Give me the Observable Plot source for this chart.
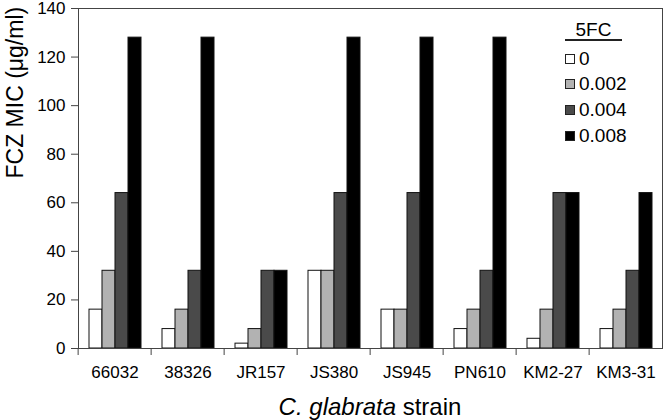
<!DOCTYPE html>
<html>
<head>
<meta charset="utf-8">
<script src="https://cdn.jsdelivr.net/npm/d3@7"></script>
<script src="https://cdn.jsdelivr.net/npm/@observablehq/plot@0.6"></script>
<style>
  body { margin: 0; background: #fff; font-family: "Liberation Sans", Arial, sans-serif; }
  #wrap { position: relative; width: 666px; }
  #chart svg { overflow: visible; }
  #xtitle { width: 590px; padding-left: 75px; text-align: center; font-size: 24px; height: 32px; line-height: 32px; padding-top: 3px; color: #000; }
  #legend-title { position: absolute; left: 565px; top: 21px; width: 57px; height: 18px; line-height: 18px; font-size: 19px; text-align: center; border-bottom: 2px solid #222; }
  #legend-items { position: absolute; left: 565px; top: 46px; }
  .row { display: flex; align-items: center; height: 25.6px; font-size: 19px; }
  .sw { width: 10px; height: 10px; box-sizing: border-box; border: 1px solid #222; margin-right: 4px; }
</style>
</head>
<body>
<div id="wrap">
  <div id="chart"></div>
  <div id="legend-title">5FC</div>
  <div id="legend-items"></div>
  <div id="xtitle"><i>C. glabrata</i> strain</div>
</div>
<script>
const strains = ["66032", "38326", "JR157", "JS380", "JS945", "PN610", "KM2-27", "KM3-31"];
const concentrations = ["0", "0.002", "0.004", "0.008"];
const mic_0 = [16, 8, 2, 32, 16, 8, 4, 8];
const mic_0002 = [32, 16, 8, 32, 16, 16, 16, 16];
const mic_0004 = [64, 32, 32, 64, 64, 32, 64, 32];
const mic_0008 = [128, 128, 32, 128, 128, 128, 64, 64];
const yTicks = [0, 20, 40, 60, 80, 100, 120, 140];
const colors = ["#ffffff", "#b2b2b2", "#4a4a4a", "#000000"];
const yTitle = "FCZ MIC (μg/ml)";
const legendTitle = "5FC";

const series = [mic_0, mic_0002, mic_0004, mic_0008];
const data = strains.flatMap((s, i) => concentrations.map((c, j) => ({strain: s, conc: c, mic: series[j][i]})));

const width = 666, height = 388, mL = 75, mR = 1, mT = 8, mB = 40;
const step = (width - mL - mR) / strains.length;

const chart = Plot.plot({
  width, height,
  marginLeft: mL, marginRight: mR, marginTop: mT, marginBottom: mB,
  style: {fontFamily: "Liberation Sans, Arial, sans-serif", fontSize: "17px", color: "#000", background: "white", overflow: "visible"},
  fx: {domain: strains, padding: 0, label: null},
  x: {domain: concentrations, paddingInner: 0, paddingOuter: 0.78, axis: null},
  y: {domain: [0, 140]},
  color: {domain: concentrations, range: colors},
  marks: [
    Plot.barY(data, {fx: "strain", x: "conc", y: "mic", fill: "conc", stroke: "#111", strokeWidth: 1}),
    Plot.frame({facet: "super", stroke: "#444"}),
    Plot.axisY({ticks: yTicks, tickSize: 7, tickPadding: 6, label: null, fontSize: 17, stroke: "#444"}),
    Plot.axisFx({anchor: "bottom", tickSize: 0, tickPadding: 17, label: null, fontSize: 17}),
    Plot.axisFx({anchor: "bottom", tickSize: 7, tickFormat: () => "", label: null, dx: -step / 2, stroke: "#444"}),
    Plot.text([yTitle], {facet: "super", text: d => d, frameAnchor: "left", rotate: -90, dx: -63, fontSize: 23})
  ]
});
document.getElementById("chart").appendChild(chart);

const li = document.getElementById("legend-items");
concentrations.forEach((c, i) => {
  const row = document.createElement("div");
  row.className = "row";
  const sw = document.createElement("div");
  sw.className = "sw";
  sw.style.background = colors[i];
  const t = document.createElement("span");
  t.textContent = c;
  row.appendChild(sw);
  row.appendChild(t);
  li.appendChild(row);
});
document.getElementById("legend-title").textContent = legendTitle;
</script>
</body>
</html>
